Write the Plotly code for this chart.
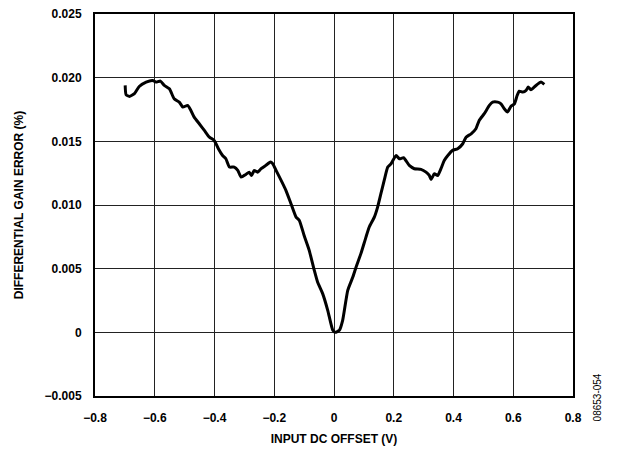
import plotly.graph_objects as go

# input DC offset (V) and differential gain error (%)
offset_v = [
    -0.699, -0.696, -0.685, -0.668, -0.652, -0.629, -0.607, -0.596, -0.581, -0.568,
    -0.551, -0.535, -0.518, -0.506, -0.490, -0.479, -0.468, -0.451, -0.434, -0.417,
    -0.401, -0.387, -0.373, -0.362, -0.350, -0.334, -0.322, -0.311, -0.295, -0.284,
    -0.276, -0.267, -0.256, -0.244, -0.228, -0.213, -0.205, -0.194, -0.177, -0.161,
    -0.144, -0.127, -0.116, -0.100, -0.083, -0.066, -0.055, -0.038, -0.021, -0.004,
    0.004, 0.018, 0.029, 0.046, 0.063, 0.074, 0.090, 0.107, 0.118, 0.135,
    0.146, 0.157, 0.168, 0.180, 0.191, 0.208, 0.219, 0.233, 0.252, 0.269,
    0.291, 0.308, 0.319, 0.325, 0.336, 0.347, 0.358, 0.369, 0.381, 0.397,
    0.414, 0.431, 0.442, 0.459, 0.475, 0.486, 0.503, 0.520, 0.531, 0.548,
    0.559, 0.570, 0.581, 0.592, 0.604, 0.613, 0.620, 0.632, 0.643, 0.650,
    0.659, 0.676, 0.693, 0.704,
]
gain_err = [
    0.01939, 0.01866, 0.01853, 0.01874, 0.01931, 0.01965, 0.01978, 0.01965, 0.01973, 0.01939,
    0.01913, 0.01834, 0.01808, 0.01769, 0.01782, 0.01743, 0.01690, 0.01638, 0.01586, 0.01533,
    0.01507, 0.01442, 0.01389, 0.01363, 0.01298, 0.01298, 0.01272, 0.01219, 0.01240, 0.01258,
    0.01232, 0.01272, 0.01258, 0.01285, 0.01311, 0.01337, 0.01324, 0.01272, 0.01193, 0.01115,
    0.01010, 0.00905, 0.00879, 0.00760, 0.00644, 0.00487, 0.00395, 0.00304, 0.00173, 0.00016,
    0.00000, 0.00016, 0.00094, 0.00330, 0.00434, 0.00513, 0.00618, 0.00748, 0.00827, 0.00905,
    0.00984, 0.01089, 0.01193, 0.01298, 0.01324, 0.01389, 0.01363, 0.01371, 0.01311, 0.01285,
    0.01280, 0.01258, 0.01232, 0.01201, 0.01245, 0.01232, 0.01285, 0.01350, 0.01389, 0.01429,
    0.01442, 0.01481, 0.01533, 0.01559, 0.01599, 0.01664, 0.01717, 0.01782, 0.01808, 0.01808,
    0.01795, 0.01756, 0.01730, 0.01774, 0.01795, 0.01860, 0.01894, 0.01887, 0.01900, 0.01926,
    0.01905, 0.01939, 0.01965, 0.01947,
]

x_ticks = [-0.8, -0.6, -0.4, -0.2, 0, 0.2, 0.4, 0.6, 0.8]
x_labels = ["\u22120.8", "\u22120.6", "\u22120.4", "\u22120.2", "0", "0.2", "0.4", "0.6", "0.8"]
y_ticks = [-0.005, 0, 0.005, 0.010, 0.015, 0.020, 0.025]
y_labels = ["\u22120.005", "0", "0.005", "0.010", "0.015", "0.020", "0.025"]

FONT = "Liberation Sans, Arial, sans-serif"

fig = go.Figure()
fig.add_trace(go.Scatter(
    x=offset_v, y=gain_err, mode="lines",
    line=dict(color="black", width=3, shape="spline", smoothing=0.5),
    showlegend=False,
))

axis_common = dict(
    showgrid=True, gridcolor="#222", gridwidth=1,
    showline=True, linecolor="black", linewidth=2, mirror=True,
    zeroline=False, ticks="", automargin=False, ticklabeloverflow="allow",
    tickfont=dict(family=FONT, size=12, color="black"),
)
fig.update_xaxes(
    range=[-0.8, 0.8], tickvals=x_ticks, ticktext=[f"<b>{t}</b>" for t in x_labels],
    ticklabelstandoff=10,
    title=dict(text="<b>INPUT DC OFFSET (V)</b>", font=dict(family=FONT, size=12, color="black"), standoff=10),
    **axis_common,
)
fig.update_yaxes(
    range=[-0.005, 0.025], tickvals=y_ticks, ticktext=[f"<b>{t}</b>" for t in y_labels],
    ticklabelstandoff=9,
    title=dict(text="<b>DIFFERENTIAL GAIN ERROR (%)</b>", font=dict(family=FONT, size=12, color="black"), standoff=18),
    **axis_common,
)

fig.add_annotation(
    text="08653-054", xref="paper", yref="paper", x=1.067, y=-0.073,
    showarrow=False, textangle=-90, font=dict(family=FONT, size=10, color="black"),
)

# page body has an 8px margin, so the figure is 8px smaller each way
fig.update_layout(
    width=621, height=444,
    margin=dict(l=87, r=56, t=6, b=56),
    plot_bgcolor="white", paper_bgcolor="white",
)

fig.write_html("out.html")
